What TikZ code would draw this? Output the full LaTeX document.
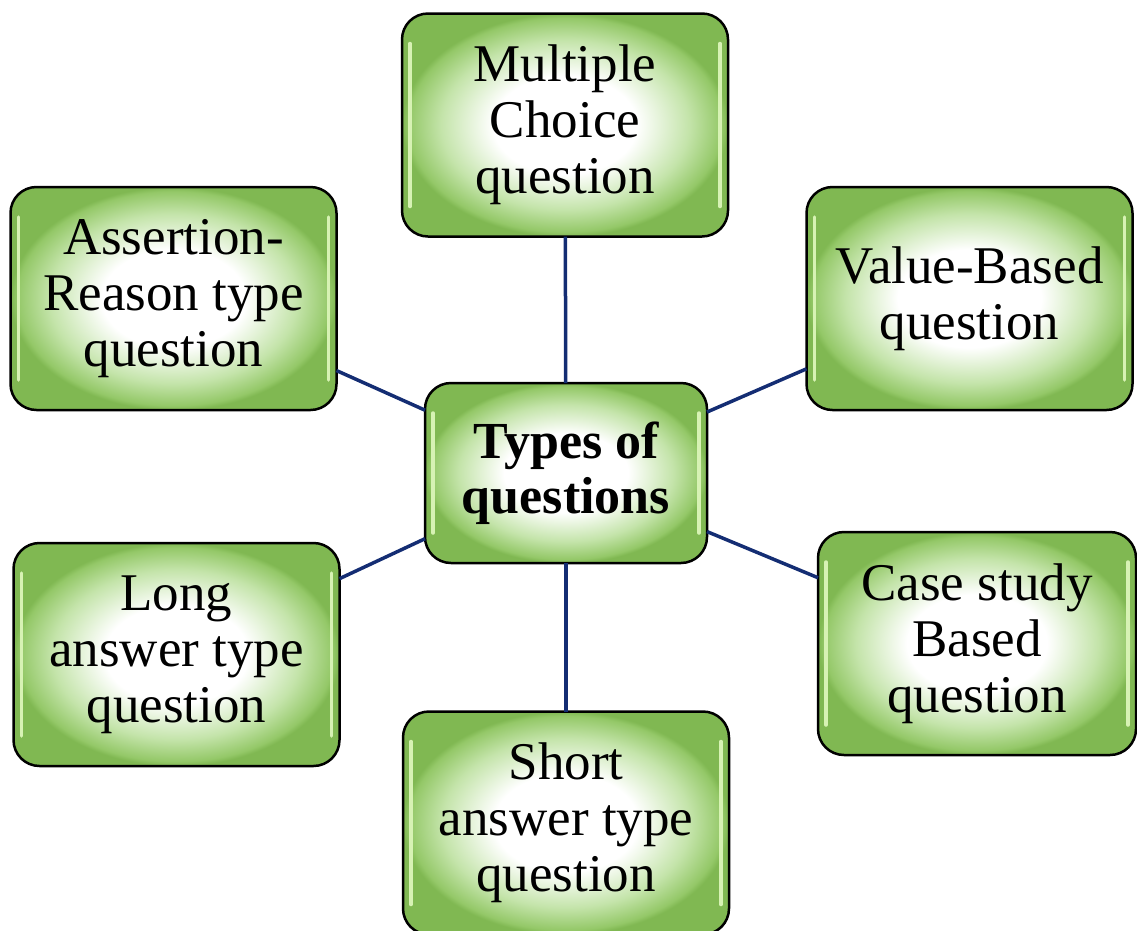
\documentclass[tikz,border=0pt]{standalone}
\usepackage{fontspec}
\setmainfont{Liberation Serif}

\definecolor{qmid}{RGB}{196,228,170}
\definecolor{qgreen}{RGB}{148,200,104}
\definecolor{qedge}{RGB}{128,184,82}
\definecolor{qlight}{RGB}{215,242,180}
\definecolor{qline}{RGB}{20,45,115}
\pgfdeclareradialshading{qshade}{\pgfpoint{0bp}{0bp}}{color(0bp)=(white); color(11bp)=(white); color(19bp)=(qmid); color(24bp)=(qgreen); color(25bp)=(qedge); color(50bp)=(qedge)}

\tikzset{
  qbox/.style={draw=black,line width=2.5pt,rounded corners=26pt,shading=qshade,
    align=center,inner sep=0pt,outer sep=0pt,minimum width=326pt,minimum height=223pt,
    font=\fontsize{53}{56}\selectfont,
    path picture={
      \draw[qlight,line width=3.5pt,line cap=round] ([xshift=8pt,yshift=-30pt]path picture bounding box.north west) -- ([xshift=8pt,yshift=30pt]path picture bounding box.south west);
      \draw[qlight,line width=3.5pt,line cap=round] ([xshift=-8pt,yshift=-30pt]path picture bounding box.north east) -- ([xshift=-8pt,yshift=30pt]path picture bounding box.south east);
    }},
  qlink/.style={draw=qline,line width=3.5pt}
}

\begin{document}
\begin{tikzpicture}[x=1pt,y=-1pt]
	\useasboundingbox (0,0) rectangle (1137,930);
	\node [qbox,minimum width=282pt,minimum height=180pt,font=\bfseries\fontsize{52}{55}\selectfont] at (566,473) (Types) {Types of\\questions};
	\node [qbox] at (565,125) (MCQ) {Multiple\\Choice\\question};
	\node [qbox] at (969.5,298.5) (Value) {Value-Based\\question};
	\node [qbox,minimum width=318pt] at (977,643.5) (Case) {Case study\\Based\\question};
	\node [qbox] at (566,823) (Short) {Short\\answer type\\question};
	\node [qbox] at (176.5,654.5) (Long) {Long\\answer type\\question};
	\node [qbox] at (173.5,298.5) (Assert) {Assertion-\\Reason type\\question};
	% links from the centre box
	\draw [qlink] (Types) -- (MCQ);
	\draw [qlink] (Types) -- (Value);
	\draw [qlink] (Types) -- (Case);
	\draw [qlink] (Types) -- (Short);
	\draw [qlink] (Types) -- (Long);
	\draw [qlink] (Types) -- (Assert);
\end{tikzpicture}
\end{document}
